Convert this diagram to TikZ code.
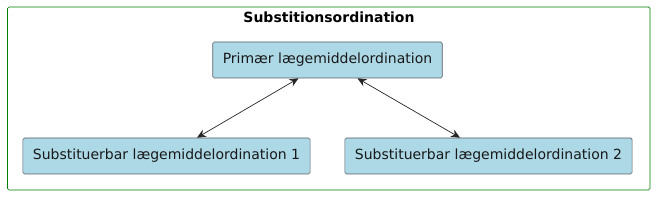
\documentclass[tikz,border=0pt]{standalone}
\usepackage{fontspec}
\setmainfont{DejaVu Sans}
\usepackage{xcolor}
\usetikzlibrary{arrows.meta,positioning}
\definecolor{boxfill}{HTML}{ADD8E6}
\definecolor{boxline}{HTML}{5A6066}
\definecolor{framegreen}{HTML}{008000}

\begin{document}
\begin{tikzpicture}[
    x=1pt, y=-1pt,
    frame/.style={draw=framegreen, rounded corners=1.5pt, line width=0.7pt},
    entity/.style={draw=boxline, fill=boxfill, rounded corners=1.5pt, minimum height=36pt, inner xsep=10pt, font=\fontsize{14}{16}\selectfont, line width=0.6pt, text=black!90},
    link/.style={{Stealth[length=9pt,width=8pt,inset=3pt]}-{Stealth[length=9pt,width=8pt,inset=3pt]}, line width=0.7pt, draw=black!85}
]
    \useasboundingbox (0,0) rectangle (662,203);

    % Package frame
    \draw[frame] (7.5,7) rectangle (650,190);
    \node[font=\bfseries\fontsize{14}{16}\selectfont] (title) at (329,17.5) {Substitionsordination};

    % Entities
    \node[entity, minimum width=229pt] (primary) at (327.5,60) {Primær lægemiddelordination};
    \node[entity, minimum width=287pt] (subst1) at (166.5,156) {Substituerbar lægemiddelordination 1};
    \node[entity, minimum width=287pt] (subst2) at (488.5,156) {Substituerbar lægemiddelordination 2};

    % Connections
    \draw[link] (primary.south) ++(-29,0) coordinate (p1) -- (subst1.north -| 197,0);
    \draw[link] (primary.south) ++(30,0) coordinate (p2) -- (subst2.north -| 460,0);

\end{tikzpicture}
\end{document}
